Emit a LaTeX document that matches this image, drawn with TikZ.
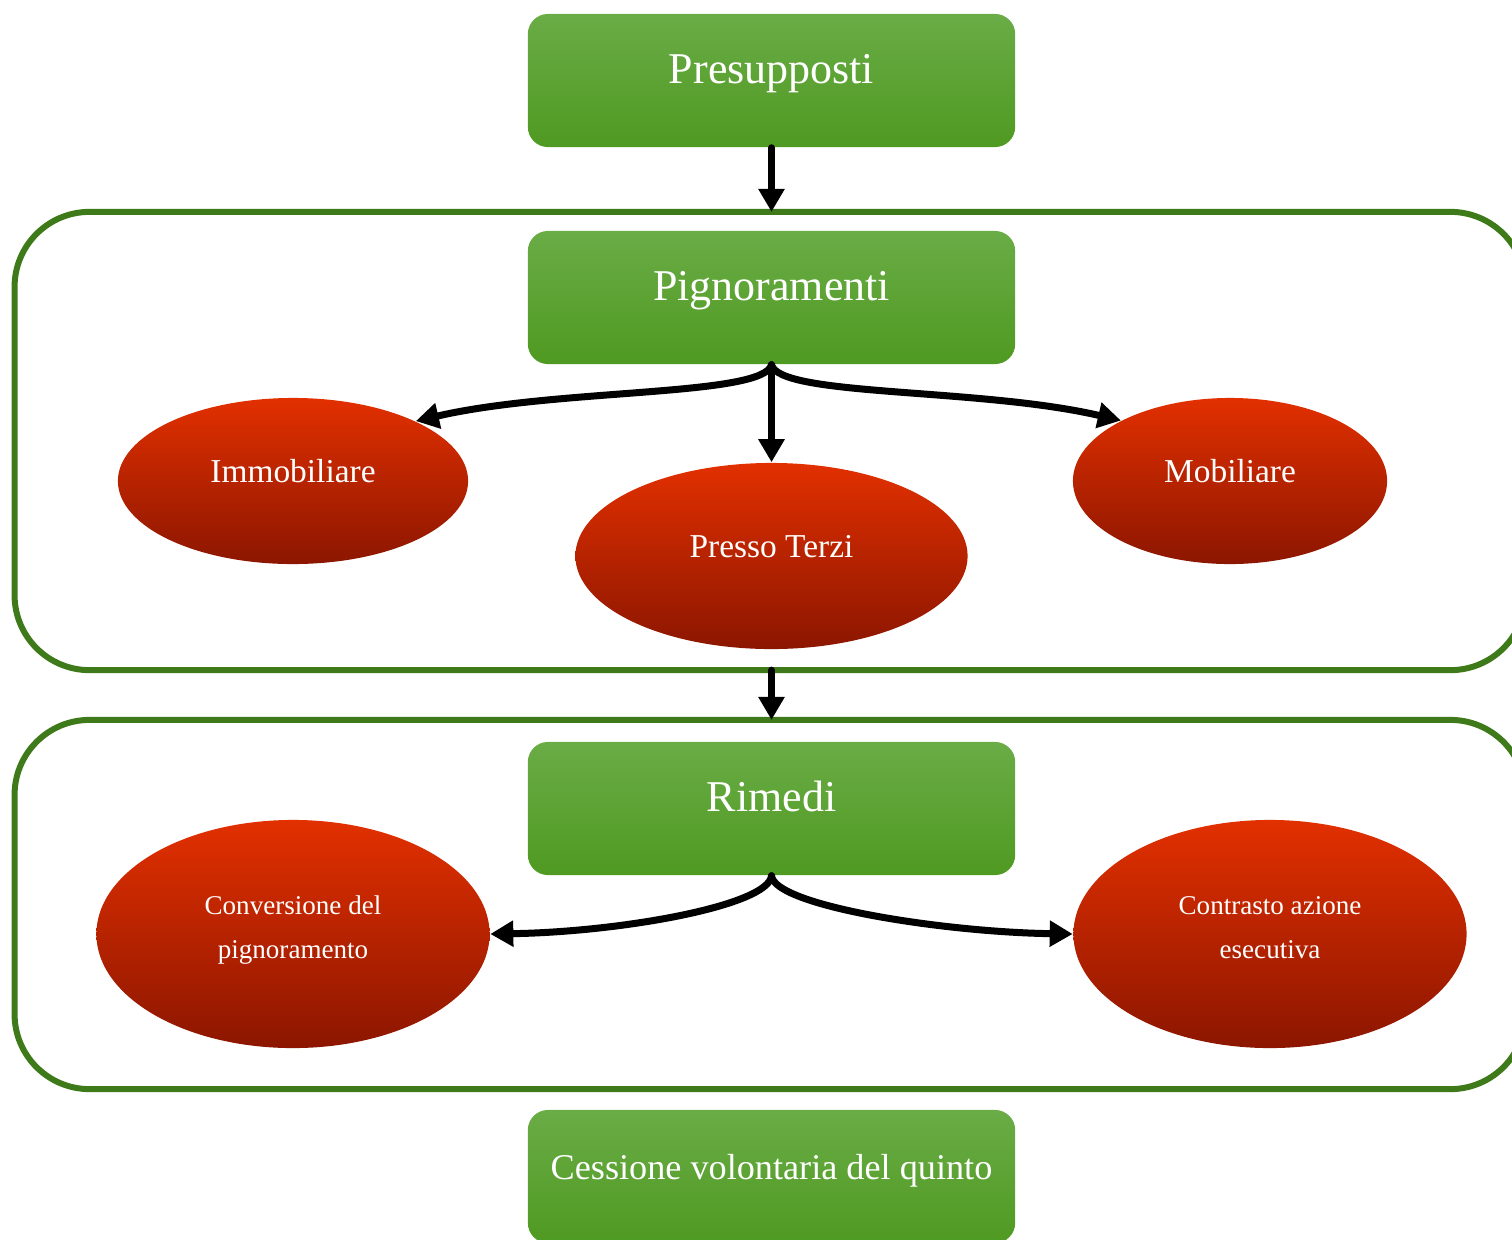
\documentclass[tikz,border=0pt]{standalone}
\usepackage{fontspec}
\setmainfont{Liberation Serif}
\usetikzlibrary{shapes.geometric,arrows.meta}

\definecolor{boxtop}{HTML}{6AAC46}
\definecolor{boxbottom}{HTML}{4F9A22}
\definecolor{ovaltop}{HTML}{E23000}
\definecolor{ovalbottom}{HTML}{8C1600}
\definecolor{frame}{HTML}{3F7A1A}

\begin{document}
\begin{tikzpicture}[x=0.01cm,y=-0.01cm,
  box/.style={rectangle,rounded corners=0.2cm,minimum width=4.87cm,minimum height=1.33cm,inner sep=0pt,
    top color=boxtop,bottom color=boxbottom,text=white,font=\fontsize{12.5}{15}\selectfont,
    text height=8pt,text depth=6.5pt},
  oval/.style={ellipse,inner sep=0pt,top color=ovaltop,bottom color=ovalbottom,text=white,
    font=\fontsize{9.5}{12}\selectfont,text height=6pt,text depth=5pt},
  smalloval/.style={oval,minimum width=3.93cm,minimum height=2.28cm,align=center,
    font=\fontsize{7.7}{12.5}\selectfont,text height=19pt,text depth=5.3pt},
  area/.style={rectangle,draw=frame,line width=0.06cm,rounded corners=0.75cm,inner sep=0pt,outer sep=0pt},
  link/.style={line width=0.07cm,line cap=round,-{Triangle[length=0.23cm,width=0.25cm]}}]

\clip (0,0) rectangle (1512,1239);

% frames
\node[area,minimum width=15.1cm,minimum height=4.58cm] (pigarea) at (770,441) {};
\node[area,minimum width=15.1cm,minimum height=3.69cm] (rimarea) at (770,904.5) {};

% green boxes
\node[box] (pres) at (771.5,80.5) {Presupposti};
\node[box] (pig) at (771.5,297.5) {Pignoramenti};
\node[box] (rim) at (771.5,808.5) {Rimedi};
\node[box,font=\fontsize{10.3}{13}\selectfont] (cess) at (771.5,1176.5) {Cessione volontaria del quinto};

% red ellipses
\node[oval,minimum width=3.5cm,minimum height=1.66cm] (imm) at (293,481) {Immobiliare};
\node[oval,minimum width=3.92cm,minimum height=1.86cm] (terzi) at (771.5,556) {Presso Terzi};
\node[oval,minimum width=3.14cm,minimum height=1.66cm] (mob) at (1230,481) {Mobiliare};
\node[smalloval] (conv) at (293,934) {Conversione del\\pignoramento};
\node[smalloval] (contr) at (1270,934) {Contrasto azione\\esecutiva};

\draw[link] (pres.south) -- (pres.south |- pigarea.north);
\draw[link] (pig.south) .. controls +(-8,32) and +(142,-33) .. (imm.26);
\draw[link] (pig.south) -- (terzi.north);
\draw[link] (pig.south) .. controls +(8,32) and +(-142,-33) .. (mob.151);
\draw[link] (pigarea.south -| pig.south) -- (rimarea.north -| pig.south);
\draw[link] (rim.south) .. controls +(-3,30) and +(130,-2) .. (conv.east);
\draw[link] (rim.south) .. controls +(3,30) and +(-130,-2) .. (contr.west);

\end{tikzpicture}
\end{document}
